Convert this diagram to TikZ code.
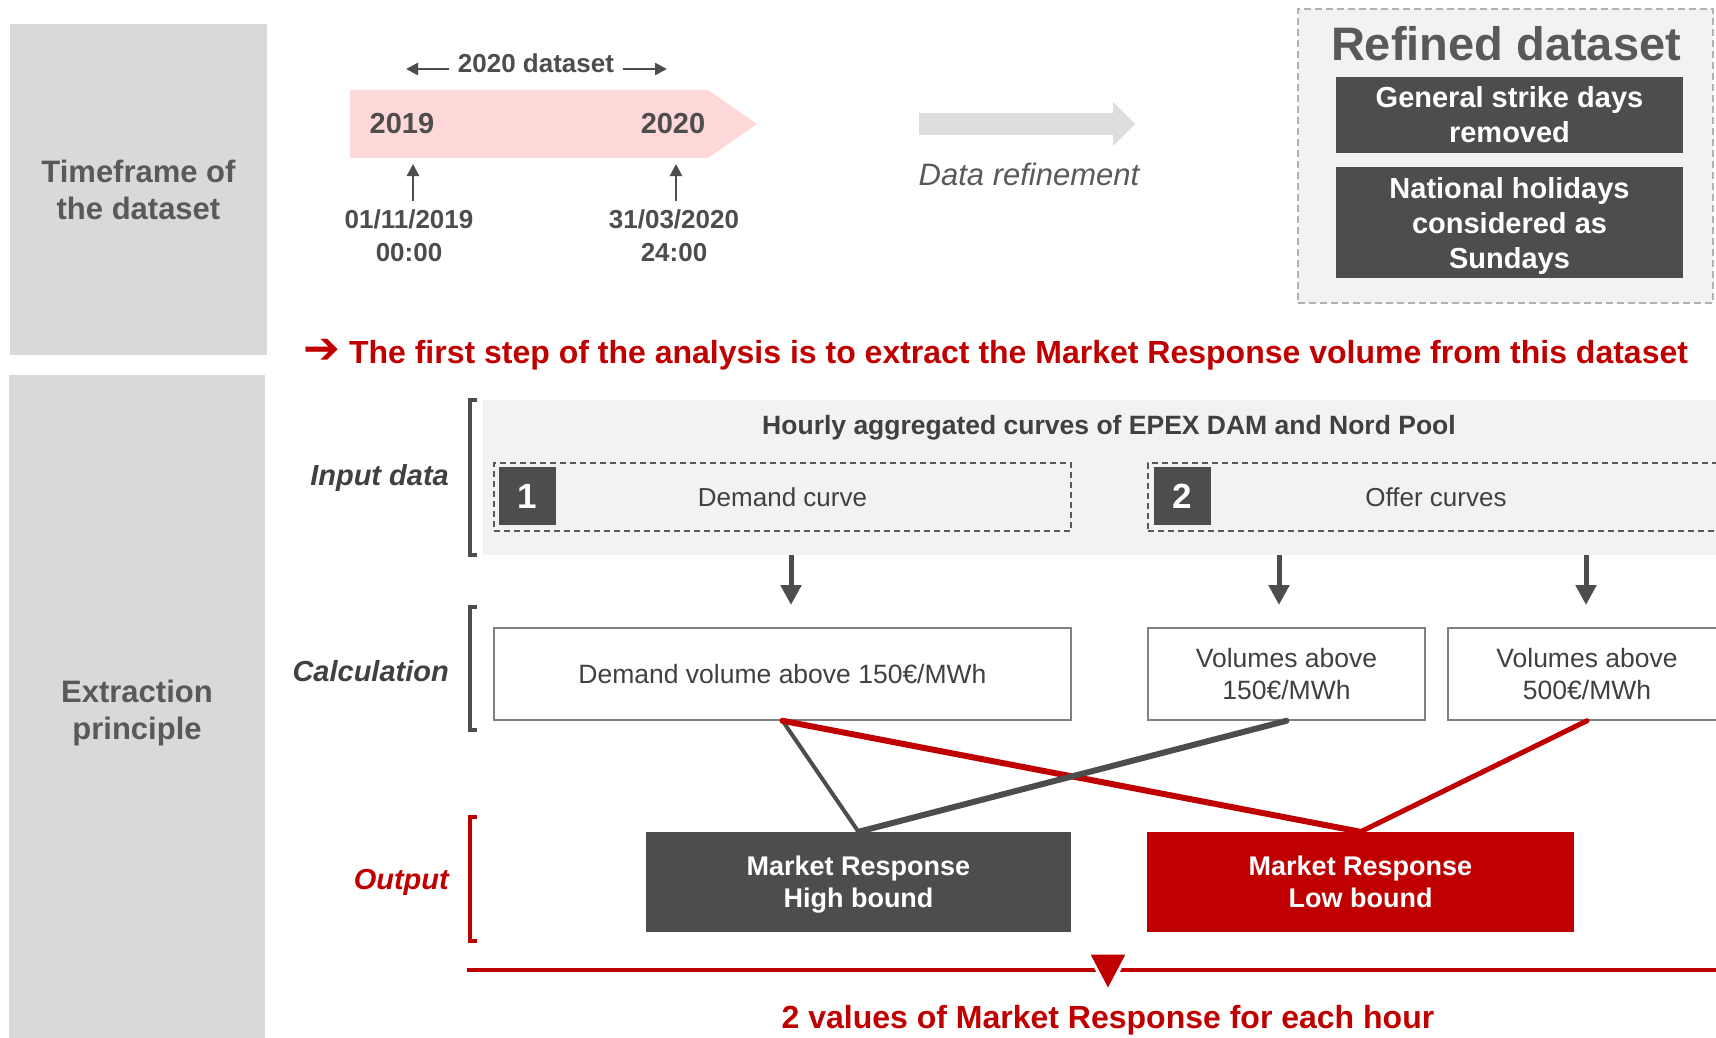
\documentclass[tikz,border=0pt]{standalone}
\usepackage{fontspec}
\setmainfont{Liberation Sans}
\newfontfamily\symfont{DejaVu Sans}
\usepackage{xcolor}
\usepackage{tikz}
\usetikzlibrary{arrows.meta,positioning,calc}

\definecolor{sidegrey}{HTML}{D9D9D9}
\definecolor{boxgrey}{HTML}{4D4D4D}
\definecolor{txtgrey}{HTML}{595959}
\definecolor{txtdark}{HTML}{404040}
\definecolor{mrred}{HTML}{C00000}
\definecolor{pinkbar}{HTML}{FFD9D9}
\definecolor{panelgrey}{HTML}{F2F2F2}
\definecolor{refgrey}{HTML}{DDDDDD}

\newcommand{\nodepth}[1]{\raisebox{0pt}[\height][0pt]{#1}}

\begin{document}
\begin{tikzpicture}[
    x=1pt, y=-1pt,
    sidebox/.style={fill=sidegrey, text=txtgrey, align=center, inner sep=0pt,
        font=\fontsize{31}{37}\selectfont\bfseries},
    yearlbl/.style={text=boxgrey, font=\fontsize{29}{35}\selectfont\bfseries},
    datelbl/.style={text=boxgrey, align=center, inner sep=1pt,
        font=\fontsize{26}{33}\selectfont\bfseries},
    darkbox/.style={fill=boxgrey, text=white, align=center, inner sep=0pt,
        font=\fontsize{29}{35}\selectfont\bfseries},
    refbox/.style={draw=gray!60, fill=panelgrey, dashed, dash pattern=on 7pt off 4pt, line width=1.5pt},
    dashbox/.style={draw=txtgrey, dashed, dash pattern=on 6pt off 4pt, line width=1.5pt,
        text=txtdark, inner sep=0pt, font=\fontsize{26}{32}\selectfont},
    numbox/.style={fill=boxgrey, text=white, minimum width=57pt, minimum height=58pt,
        inner sep=0pt, font=\fontsize{35}{40}\selectfont\bfseries},
    calcbox/.style={draw=gray, fill=white, line width=1.5pt, text=txtdark, align=center,
        inner sep=0pt, font=\fontsize{26.5}{32}\selectfont},
    outbox/.style={text=white, align=center, inner sep=0pt,
        font=\fontsize{27}{32}\selectfont\bfseries},
    lbl/.style={anchor=east, text=txtdark, inner sep=0pt,
        font=\fontsize{29}{35}\selectfont\bfseries\itshape},
    brk/.style={draw=boxgrey, line width=4pt},
    arr/.style={-{Triangle[length=12pt, width=12pt]}, draw=boxgrey, fill=boxgrey, line width=2.5pt},
    dnarr/.style={-{Triangle[length=20pt, width=20pt]}, draw=boxgrey, fill=boxgrey, line width=5pt},
    link/.style={draw=boxgrey, line cap=round}
]
\useasboundingbox (0,0) rectangle (1716,1038);
\clip (0,0) rectangle (1716,1038);

% Side headers
\node[sidebox, minimum width=257pt, minimum height=331pt] (tf) at (138.5,189.5) {Timeframe of\\the dataset};
\node[sidebox, minimum width=256pt, minimum height=663pt] (ep) at (137,706.5) {};
\node[sidebox, fill=none] (eptxt) at (137,713) {Extraction\\principle};

% Timeline
\fill[pinkbar] (350,90) -- (708,90) -- (757,124) -- (708,158) -- (350,158) -- cycle;
\node[yearlbl] (y19) at (402,124) {2019};
\node[yearlbl] (y20) at (673,124) {2020};
\node[yearlbl, font=\fontsize{26}{30}\selectfont\bfseries] (ds) at (536,63) {2020 dataset};
\coordinate (dsl) at (406,69);
\coordinate (dsr) at (667,69);
\draw[arr] ([xshift=-5pt]ds.west |- dsl) -- (dsl);
\draw[arr] ([xshift=5pt]ds.east |- dsr) -- (dsr);
\node[datelbl] (d19) at (409,236) {01/11/2019\\00:00};
\node[datelbl] (d20) at (674,236) {31/03/2020\\24:00};
\coordinate (t19) at (413,164);
\coordinate (t20) at (676,164);
\draw[arr, shorten <=8pt] (d19.north -| t19) -- (t19);
\draw[arr, shorten <=8pt] (d20.north -| t20) -- (t20);

% Data refinement
\fill[refgrey] (919,113) -- (1113,113) -- (1113,102) -- (1135,124) -- (1113,146) -- (1113,135) -- (919,135) -- cycle;
\node[text=txtgrey, font=\fontsize{31}{37}\selectfont\itshape] (drl) at (1029,174) {Data refinement};

% Refined dataset
\node[refbox, minimum width=415pt, minimum height=294pt] (rbox) at (1505.5,156) {};
\node[text=txtgrey, font=\fontsize{47}{56}\selectfont\bfseries] (rtitle) at (1506,44) {Refined dataset};
\node[darkbox, minimum width=347pt, minimum height=76pt] (gen) at (1509.5,115) {General strike days\\removed};
\node[darkbox, minimum width=347pt, minimum height=111pt] (nat) at (1509.5,222.5) {National holidays\\considered as\\\nodepth{Sundays}};

% Statement
\node[anchor=west, text=mrred, inner sep=0pt, font=\fontsize{32}{36}\selectfont\bfseries] (st) at (303,355)
    {{\symfont\mdseries\fontsize{44}{44}\selectfont ➔}\hspace{9pt}The first step of the analysis is to extract the Market Response volume from this dataset};

% Input data
\node[fill=panelgrey, anchor=north west, minimum width=1240pt, minimum height=155pt, inner sep=0pt] (inp) at (483,400) {};
\node[text=txtdark, font=\fontsize{26.5}{32}\selectfont\bfseries] (hourly) at (1109,428) {Hourly aggregated curves of EPEX DAM and Nord Pool};
\node[dashbox, minimum width=577pt, minimum height=68pt] (dem) at (782.5,497) {Demand curve};
\node[dashbox, minimum width=576pt, minimum height=68pt] (off) at (1436,497) {Offer curves};
\node[numbox] (n1) at (527.5,496) {1};
\node[numbox] (n2) at (1182.5,496) {2};

% Brackets and row labels
\draw[brk] (477,400) -- (470,400) -- (470,555) -- (477,555);
\draw[brk] (477,607) -- (470,607) -- (470,730) -- (477,730);
\draw[brk, draw=mrred] (477,817) -- (470,817) -- (470,941) -- (477,941);
\node[lbl] (lin) at (449,478) {Input data};
\node[lbl] (lcalc) at (449,671) {Calculation};
\node[lbl, text=mrred] (lout) at (449,882) {Output};

% Calculation
\node[calcbox, minimum width=577pt, minimum height=92pt] (cA) at (782.5,674) {Demand volume above 150€/MWh};
\node[calcbox, minimum width=277pt, minimum height=92pt] (cB) at (1286.5,674) {Volumes above\\150€/MWh};
\node[calcbox, minimum width=278pt, minimum height=92pt] (cC) at (1587,674) {Volumes above\\500€/MWh};
\coordinate (aA) at (791,605);
\coordinate (aB) at (1279,605);
\coordinate (aC) at (1586,605);
\draw[dnarr] (inp.south -| aA) -- (aA);
\draw[dnarr] (inp.south -| aB) -- (aB);
\draw[dnarr] (inp.south -| aC) -- (aC);

% Output
\node[outbox, fill=boxgrey, minimum width=425pt, minimum height=100pt] (hb) at (858.5,882) {Market Response\\\nodepth{High bound}};
\node[outbox, fill=mrred, minimum width=427pt, minimum height=100pt] (lb) at (1360.5,882) {Market Response\\Low bound};
\draw[link, line width=4pt] (cA.south) -- (hb.north);
\draw[link, draw=mrred, line width=6pt] (cA.south) -- (lb.north);
\draw[link, line width=6pt] (cB.south) -- (hb.north);
\draw[link, draw=mrred, line width=5pt] (cC.south) -- (lb.north);

% Summary
\coordinate (bl) at (467,970);
\coordinate (br) at (1716,970);
\draw[mrred, line width=4pt] (bl) -- (br);
\filldraw[fill=mrred, draw=white, line width=3pt] (1088,953) -- (1128,953) -- (1108,991) -- cycle;
\node[text=mrred, font=\fontsize{32}{36}\selectfont\bfseries] (sum) at (1108,1020) {2 values of Market Response for each hour};
\end{tikzpicture}
\end{document}
